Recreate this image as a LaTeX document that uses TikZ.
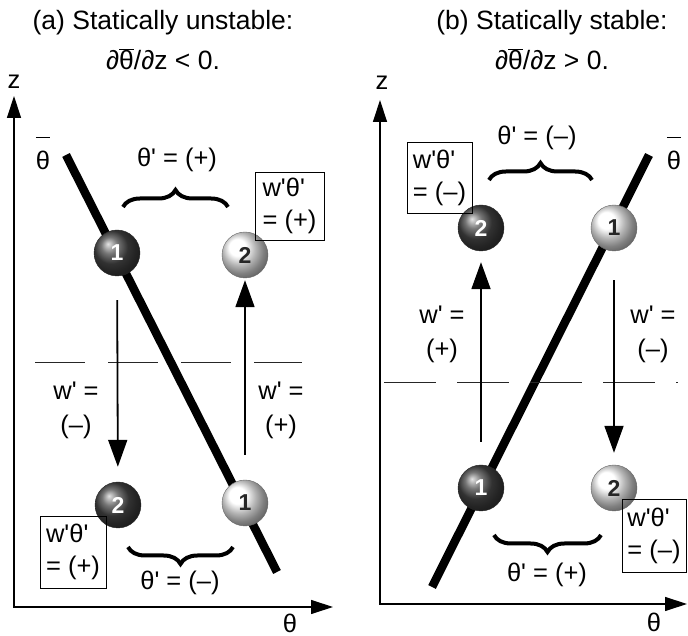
\documentclass[tikz,border=0pt]{standalone}
\usepackage{fontspec}
\setmainfont{Liberation Sans}[Ligatures=TeXOff]
\usetikzlibrary{arrows.meta,decorations.pathreplacing}

\newcommand{\prm}{'}
\newcommand{\thbar}{$\overline{\mbox{θ}}$}
\newcommand{\thbarhi}{$\overline{\rule{0pt}{1.25em}\mbox{θ}}$}

\tikzset{
  ballD/.style={circle, minimum size=46pt, inner sep=0pt, shading=ball, ball color=black!72,
    draw=black!85, font=\fontsize{23}{23}\selectfont\bfseries, text=white},
  ballL/.style={circle, minimum size=46pt, inner sep=0pt, shading=ball, ball color=white,
    draw=black!60, font=\fontsize{23}{23}\selectfont\bfseries, text=black!85},
  fluxbox/.style={draw, line width=0.8pt, align=left, inner sep=2pt,
    font=\fontsize{25.5}{32}\selectfont},
  lbl/.style={font=\fontsize{25.5}{34}\selectfont, align=center, inner sep=0pt},
  ttl/.style={font=\fontsize{26.5}{40}\selectfont, align=center, inner sep=0pt},
  axisarr/.style={line width=1.2pt, {Triangle[width=14pt,length=22pt]}-{Triangle[width=14pt,length=22pt]}},
  motion/.style={line width=1.8pt, -{Triangle[width=19pt,length=27pt]}},
  profile/.style={line width=8.5pt},
  meanlvl/.style={line width=0.9pt, black!85},
  brc/.style={decorate, decoration={brace, amplitude=17pt}, line width=4pt},
}

\begin{document}
\begin{tikzpicture}[x=1pt,y=1pt]
\useasboundingbox (0,0) rectangle (688,636);
%% ---- (a) Statically unstable ----
\begin{scope}
  \node[ttl] (ttlA) at (163,596) {(a) Statically unstable:\\ ∂\thbar/∂z < 0.};
  \coordinate (zA) at (14,540);
  \coordinate (tA) at (333,29);
  \draw[axisarr] (zA) |- (tA);
  \node[lbl] (zlA) at (14,554) {z};
  \node[lbl] (thlA) at (290,13) {θ};
  \coordinate (pAt) at (66,481);
  \coordinate (pAb) at (277,64);
  \draw[profile] (pAt) -- (pAb);
  \node[lbl, anchor=base] (barA) at (43,466) {\thbarhi};
  \draw[meanlvl, dash pattern=on 50pt off 23pt] (35,274) -- (302,274);
  \node[ballD] (aD1) at (117,383) {1};
  \node[ballL] (aL2) at (245,381) {2};
  \node[ballD] (aD2) at (118,131) {2};
  \node[ballL] (aL1) at (245,133) {1};
  \draw[motion, shorten <=24pt, shorten >=15pt] (aD1) -- (aD2);
  \draw[motion, shorten <=25pt, shorten >=2pt] (aL1) -- (aL2);
  \node[lbl] (wA1) at (76,226) {w\prm{} =\\(–)};
  \node[lbl] (wA2) at (281,226) {w\prm{} =\\(+)};
  \draw[brc] (123,429) -- (228,429);
  \node[lbl] (dtA1) at (177,476) {θ\prm{} = (+)};
  \draw[brc] (233,89) -- (128,89);
  \node[lbl] (dtA2) at (180,53) {θ\prm{} = (–)};
  \node[fluxbox, minimum width=69pt, minimum height=68pt] (fA1) at (289.5,430) {w\prm θ\prm\\= (+)};
  \node[fluxbox, minimum width=66pt, minimum height=72pt] (fA2) at (73,84) {w\prm θ\prm\\= (+)};
\end{scope}
%% ---- (b) Statically stable ----
\begin{scope}
  \node[ttl] (ttlB) at (552,596) {(b) Statically stable:\\ ∂\thbar/∂z > 0.};
  \coordinate (zB) at (380,536);
  \coordinate (tB) at (687,32);
  \draw[axisarr] (zB) |- (tB);
  \node[lbl] (zlB) at (382,553) {z};
  \node[lbl] (thlB) at (654,14) {θ};
  \coordinate (pBt) at (649,481);
  \coordinate (pBb) at (432,49);
  \draw[profile] (pBt) -- (pBb);
  \node[lbl, anchor=base] (barB) at (674,466) {\thbarhi};
  \draw[meanlvl, dash pattern=on 52pt off 21pt] (384,254) -- (678,254);
  \node[ballD] (bD2) at (481,408) {2};
  \node[ballL] (bL1) at (614,408) {1};
  \node[ballD] (bD1) at (481,148) {1};
  \node[ballL] (bL2) at (614,148) {2};
  \draw[motion, shorten <=23pt, shorten >=11pt] (bD1) -- (bD2);
  \draw[motion, shorten <=29pt, shorten >=12pt] (bL1) -- (bL2);
  \node[lbl] (wB1) at (442,302) {w\prm{} =\\(+)};
  \node[lbl] (wB2) at (653,302) {w\prm{} =\\(–)};
  \draw[brc] (489,456) -- (592,456);
  \node[lbl] (dtB1) at (537,498) {θ\prm{} = (–)};
  \draw[brc] (601,101) -- (494,101);
  \node[lbl] (dtB2) at (547,61) {θ\prm{} = (+)};
  \node[fluxbox, minimum width=65pt, minimum height=71pt] (fB1) at (439.5,458.5) {w\prm θ\prm\\= (–)};
  \node[fluxbox, minimum width=64pt, minimum height=73pt] (fB2) at (654,100.5) {w\prm θ\prm\\= (–)};
\end{scope}
\end{tikzpicture}
\end{document}
